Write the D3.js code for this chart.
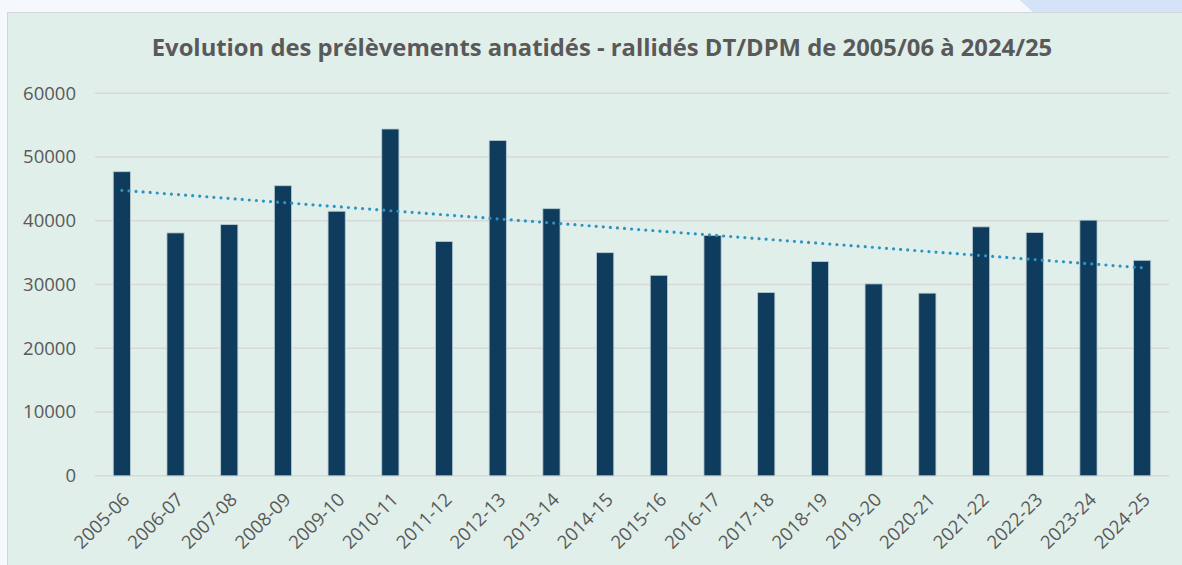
<!DOCTYPE html>
<html>
<head>
<meta charset="utf-8">
<script src="https://cdn.jsdelivr.net/npm/d3@7"></script>
<style>
  body { margin: 0; background: #f5f9fd; }
  svg { display: block; font-family: "Open Sans", sans-serif; }
</style>
</head>
<body>
<div id="chart-area"></div>
<script>
var seasons = ["2005-06","2006-07","2007-08","2008-09","2009-10","2010-11","2011-12","2012-13","2013-14","2014-15",
               "2015-16","2016-17","2017-18","2018-19","2019-20","2020-21","2021-22","2022-23","2023-24","2024-25"];
var prelevements = [47700, 38100, 39400, 45500, 41500, 54400, 36750, 52600, 41900, 35000,
                    31450, 37700, 28750, 33600, 30100, 28650, 39050, 38150, 40100, 33800];
var yTicks = [0, 10000, 20000, 30000, 40000, 50000, 60000];
var title = "Evolution des prélèvements anatidés - rallidés DT/DPM de 2005/06 à 2024/25";

var W = 1182, H = 565;
var margin = {top: 93.3, right: 13, bottom: 89.2, left: 95};
var width = W - margin.left - margin.right;
var height = H - margin.top - margin.bottom;

var svg = d3.select("#chart-area").append("svg")
  .attr("width", W)
  .attr("height", H);

// light blue shape in the top right corner
svg.append("circle")
  .attr("cx", 1400).attr("cy", -400)
  .attr("r", 552)
  .attr("fill", "#d4e3f7");

// chart panel
svg.append("rect")
  .attr("x", 7.5).attr("y", 12.5)
  .attr("width", W).attr("height", H)
  .attr("fill", "#e1efea")
  .attr("stroke", "#d2d6d8");

svg.append("text")
  .attr("x", 602).attr("y", 56)
  .attr("text-anchor", "middle")
  .attr("font-size", 23.8)
  .attr("font-weight", "bold")
  .attr("fill", "#595959")
  .text(title);

var g = svg.append("g")
  .attr("transform", "translate(" + margin.left + "," + margin.top + ")");

var xscale = d3.scaleBand()
  .domain(seasons)
  .range([0, width])
  .paddingInner(0.68)
  .paddingOuter(0.34);

var yscale = d3.scaleLinear()
  .domain([0, 60000])
  .range([height, 0]);

// gridlines
g.append("g")
  .selectAll("line")
  .data(yTicks)
  .enter().append("line")
  .attr("x1", 0).attr("x2", width)
  .attr("y1", function(d){ return yscale(d); })
  .attr("y2", function(d){ return yscale(d); })
  .attr("stroke", "#d6d9d8")
  .attr("stroke-width", 1.5);

var leftaxis = d3.axisLeft(yscale).tickValues(yTicks).tickSize(0).tickPadding(19)
  .tickFormat(d3.format("d"));
var yAxis = g.append("g").call(leftaxis);
yAxis.select(".domain").remove();
yAxis.selectAll("text")
  .attr("font-size", 18.5)
  .attr("font-family", "Open Sans, sans-serif")
  .attr("fill", "#595959");

// bars
g.selectAll("rect.bar")
  .data(prelevements)
  .enter().append("rect")
  .attr("class", "bar")
  .attr("x", function(d, i){ return xscale(seasons[i]); })
  .attr("y", function(d){ return yscale(d); })
  .attr("width", xscale.bandwidth())
  .attr("height", function(d){ return height - yscale(d); })
  .attr("fill", "#0f3c5c")
  .attr("stroke", "#b9cdd3")
  .attr("stroke-width", 0.8);

// x labels
var bottomaxis = d3.axisBottom(xscale).tickSize(0).tickPadding(0);
var xAxis = g.append("g")
  .attr("transform", "translate(0," + height + ")")
  .call(bottomaxis);
xAxis.select(".domain").remove();
xAxis.selectAll("text")
  .attr("font-size", 18.5)
  .attr("font-family", "Open Sans, sans-serif")
  .attr("fill", "#595959")
  .attr("text-anchor", "end")
  .attr("dy", 0)
  .attr("transform", "translate(9,25) rotate(-45)");

// linear trendline (least squares on the bar values)
var n = prelevements.length;
var mx = d3.mean(prelevements, function(d, i){ return i; });
var my = d3.mean(prelevements);
var sxy = d3.sum(prelevements, function(d, i){ return (i - mx) * (d - my); });
var sxx = d3.sum(prelevements, function(d, i){ return (i - mx) * (i - mx); });
var slope = sxy / sxx;
var intercept = my - slope * mx;
var trend = [0, n - 1].map(function(i){ return {s: seasons[i], v: intercept + slope * i}; });

var line = d3.line()
  .x(function(d){ return xscale(d.s) + xscale.bandwidth() / 2; })
  .y(function(d){ return yscale(d.v); });

g.append("path")
  .datum(trend)
  .attr("d", line)
  .attr("fill", "none")
  .attr("stroke", "#2b94c2")
  .attr("stroke-width", 3.2)
  .attr("stroke-linecap", "round")
  .attr("stroke-dasharray", "0,7.1");
</script>
</body>
</html>
